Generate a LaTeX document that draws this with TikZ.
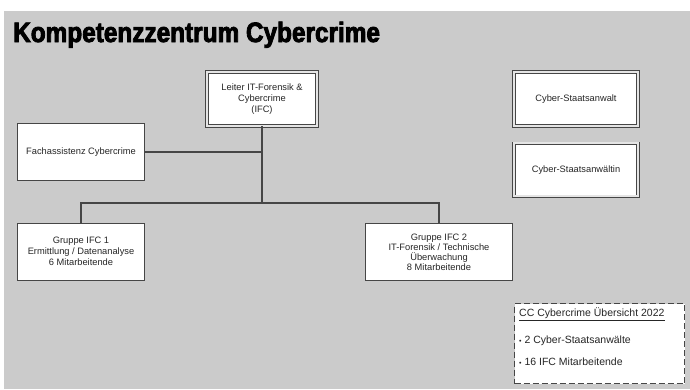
\documentclass[tikz,border=0pt]{standalone}
\usepackage{fontspec}
\setmainfont{Liberation Sans}
\newfontfamily\titlefont{Liberation Sans}[FakeStretch=0.87,BoldFeatures={FakeBold=3}]
\usetikzlibrary{positioning}
\definecolor{bggray}{RGB}{203,203,203}
\definecolor{linegray}{RGB}{70,70,70}

\begin{document}
\begin{tikzpicture}[x=1pt,y=-1pt,
    box/.style={draw=linegray, fill=white, line width=1pt, align=center, text=black!85,
      font=\fontsize{9.3}{11}\selectfont, minimum height=57pt, inner sep=2pt},
    dbox/.style={box, double=gray!20, double distance=1.5pt, line width=0.9pt},
    link/.style={draw=linegray, line width=1.4pt},
    sumtext/.style={anchor=west, inner sep=0pt, text=black!85, font=\fontsize{10.5}{12}\selectfont}]
  \useasboundingbox (0,0) rectangle (690,389);
  \fill[white] (0,0) rectangle (690,389);
  \fill[bggray] (4,11) rectangle (690,389);
  \node[anchor=base west, inner sep=0pt, font=\titlefont\bfseries\fontsize{28}{30}\selectfont]
    (title) at (13,42) {Kompetenzzentrum Cybercrime};
  % leitung und stab
  \node[dbox, minimum width=110pt, minimum height=54pt] (leiter) at (262,99)
    {Leiter IT-Forensik \&\\Cybercrime\\(IFC)};
  \node[box, minimum width=127pt] (fach) at (81,152) {Fachassistenz Cybercrime};
  % gruppen
  \node[box, minimum width=127pt] (grp1) at (81,251.5)
    {Gruppe IFC 1\\Ermittlung / Datenanalyse\\6 Mitarbeitende};
  \node[box, minimum width=147pt, font=\fontsize{9.3}{10}\selectfont] (grp2) at (439,252)
    {Gruppe IFC 2\\IT-Forensik / Technische\\Überwachung\\8 Mitarbeitende};
  % staatsanwaltschaft
  \node[dbox, minimum width=124pt, minimum height=54pt] (anwalt) at (576,99) {Cyber-Staatsanwalt};
  \node[dbox, minimum width=124pt, minimum height=53pt, below=16.3pt of anwalt] (anwaeltin)
    {Cyber-Staatsanwältin};
  % uebersicht
  \node[draw=linegray, fill=white, line width=1pt, dash pattern=on 6pt off 3pt,
    minimum width=170pt, minimum height=80pt] (summary) at (599.5,343.5) {};
  \node[sumtext] (sumhead) at (519,314) {\underline{CC Cybercrime Übersicht 2022}};
  \node[sumtext] (item1) at (519,341) {{\fontsize{7}{7}\selectfont\textbullet}\ 2 Cyber-Staatsanwälte};
  \node[sumtext] (item2) at (519,362) {{\fontsize{7}{7}\selectfont\textbullet}\ 16 IFC Mitarbeitende};
  % verbindungen
  \coordinate (bus) at (leiter.south |- 0,203);
  \draw[link] (leiter) -- (bus);
  \draw[link] (fach) -- (fach -| leiter);
  \draw[link] (grp1) |- (bus) -| (grp2);
\end{tikzpicture}
\end{document}
